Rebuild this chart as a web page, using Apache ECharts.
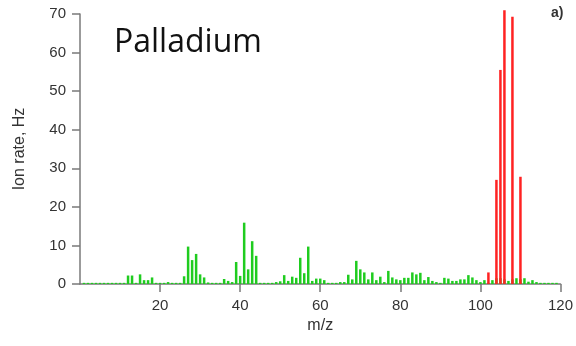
<!DOCTYPE html>
<html>
<head>
<meta charset="utf-8">
<script src="https://cdn.jsdelivr.net/npm/echarts@6/dist/echarts.min.js"></script>
<style>
html,body{margin:0;padding:0;background:#fff;}
#chart{width:576px;height:346px;}
</style>
</head>
<body>
<div id="chart"></div>
<script>
// m/z values 1..119 for background (green) spectrum
var massNumbers = [];
for (var i = 1; i <= 119; i++) massNumbers.push(i);
var greenValues = [
  0.3,0.3,0.3,0.3,0.3,0.3,0.3,0.3,0.3,0.3,   // 1-10
  0.3,2.2,2.2,0.3,2.5,1.0,1.0,1.7,0.3,0.3,   // 11-20
  0.3,0.5,0.3,0.3,0.3,2.0,9.7,6.2,7.8,2.5,   // 21-30
  1.7,0.4,0.3,0.3,0.3,1.3,0.8,0.5,5.7,2.1,   // 31-40
  15.9,3.8,11.1,7.3,0.3,0.3,0.3,0.3,0.5,0.7, // 41-50
  2.3,0.8,1.9,1.6,6.8,2.8,9.7,0.8,1.4,1.4,   // 51-60
  1.0,0.3,0.3,0.3,0.5,0.5,2.4,1.2,6.0,3.8,   // 61-70
  3.0,1.2,3.0,1.0,1.9,0.5,3.4,1.7,1.2,1.0,   // 71-80
  1.6,1.6,3.0,2.5,2.9,1.0,1.8,0.8,0.5,0.3,   // 81-90
  1.6,1.4,0.8,0.8,1.2,1.2,2.3,1.7,1.0,0.5,   // 91-100
  1.0,0.3,1.0,1.5,1.5,1.2,0.8,1.2,1.5,1.2,   // 101-110
  1.5,0.6,1.0,0.5,0.3,0.3,0.3,0.3,0.3        // 111-119
];
// Palladium isotopes (red)
var pdMasses = [102, 104, 105, 106, 108, 110];
var pdValues = [3.0, 27.0, 55.5, 71.0, 69.3, 27.8];
var xTickValues = [20, 40, 60, 80, 100, 120];

var greenData = massNumbers.map(function (m, k) { return [m, greenValues[k]]; });
var redData = pdMasses.map(function (m, k) { return [m, pdValues[k]]; });

var chart = echarts.init(document.getElementById('chart'), null, {renderer: 'canvas'});
var axisColor = '#7a7a7a';
var textColor = '#333333';
chart.setOption({
  animation: false,
  backgroundColor: '#ffffff',
  grid: {left: 80, right: 15, top: 14, bottom: 62, containLabel: false},
  xAxis: {
    type: 'value', min: 0, max: 120, interval: 20,
    name: 'm/z', nameLocation: 'middle', nameGap: 34,
    nameTextStyle: {fontFamily: 'Liberation Sans, Arial', fontSize: 16, color: textColor},
    axisLine: {show: true, lineStyle: {color: axisColor, width: 1.5}},
    axisTick: {show: true, length: 8, customValues: xTickValues, lineStyle: {color: axisColor, width: 1.5}},
    axisLabel: {customValues: xTickValues, margin: 14, fontFamily: 'Liberation Sans, Arial', fontSize: 15, color: textColor},
    splitLine: {show: false}
  },
  yAxis: {
    type: 'value', min: 0, max: 70, interval: 10,
    name: 'Ion rate, Hz', nameLocation: 'middle', nameGap: 52,
    nameTextStyle: {fontFamily: 'Liberation Sans, Arial', fontSize: 16, color: textColor},
    axisLine: {show: true, lineStyle: {color: axisColor, width: 1.5}},
    axisTick: {show: true, length: 8, lineStyle: {color: axisColor, width: 1.5}},
    axisLabel: {margin: 14, fontFamily: 'Liberation Sans, Arial', fontSize: 15, color: textColor},
    splitLine: {show: false}
  },
  series: [
    {
      type: 'bar', name: 'background', data: greenData, barWidth: 2.5,
      itemStyle: {color: '#1fcc1f'}, barGap: '-100%', clip: false, z: 2
    },
    {
      type: 'bar', name: 'Pd', data: redData, barWidth: 2.5,
      itemStyle: {color: '#ff2222'}, barGap: '-100%', clip: false, z: 3
    }
  ],
  graphic: [
    {type: 'text', left: 114, top: 27, style: {text: 'Palladium', font: '32px "Open Sans"', fill: '#111111'}},
    {type: 'text', left: 551, top: 6, style: {text: 'a)', font: 'bold 14px "Liberation Sans"', fill: '#333333'}}
  ]
});
</script>
</body>
</html>
